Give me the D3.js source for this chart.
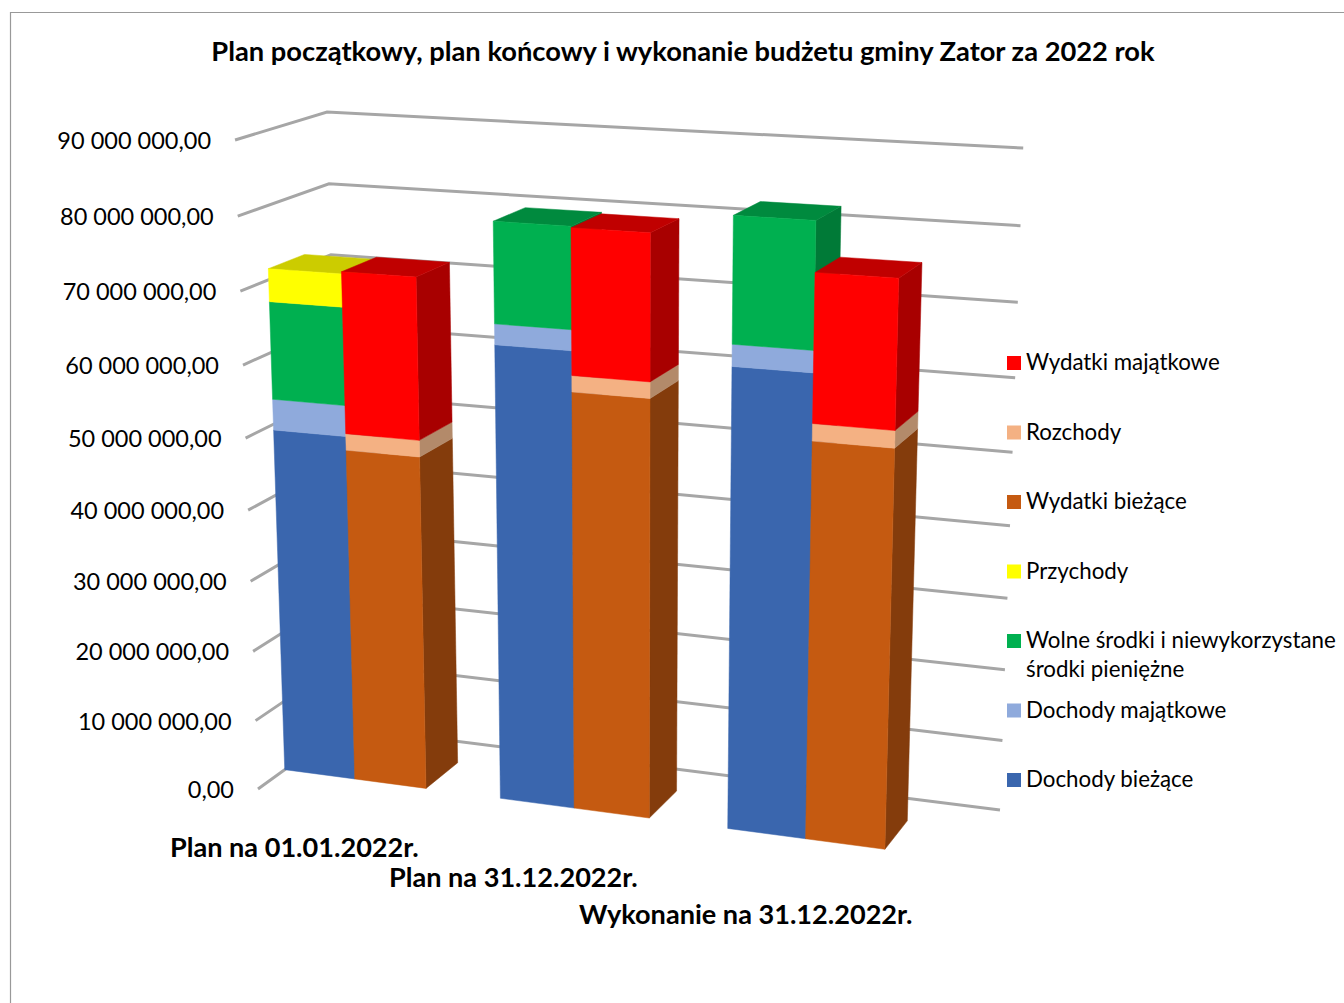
<!DOCTYPE html>
<html>
<head>
	<meta charset="utf-8">
	<script src="https://cdnjs.cloudflare.com/ajax/libs/d3/7.8.5/d3.min.js"></script>
	<style>
		html, body { margin: 0; padding: 0; background: #fff; }
		svg { display: block; }
		text { font-family: Lato, "Open Sans", sans-serif; fill: #000; }
	</style>
</head>
<body>
	<svg width="1344" height="1003"></svg>
	<script>
	//data
	const categories = ["Plan na 01.01.2022r.", "Plan na 31.12.2022r.", "Wykonanie na 31.12.2022r."];
	const valueTicks = [0, 10000000, 20000000, 30000000, 40000000, 50000000, 60000000, 70000000, 80000000, 90000000];
	const tickLabels = ["0,00", "10 000 000,00", "20 000 000,00", "30 000 000,00", "40 000 000,00", "50 000 000,00", "60 000 000,00", "70 000 000,00", "80 000 000,00", "90 000 000,00"];

	const dochodyBiezace = [49200000, 63500000, 63100000];
	const dochodyMajatkowe = [4300000, 2800000, 2900000];
	const wolneSrodki = [13500000, 13600000, 16600000];
	const przychody = [4500000, 0, 0];
	const wydatkiBiezace = [47300000, 58000000, 54200000];
	const rozchody = [2300000, 2200000, 2300000];
	const wydatkiMajatkowe = [22200000, 19500000, 19500000];

	const income = [
		{name: "Dochody bieżące", values: dochodyBiezace, front: "#3a66ae", side: "#2a4a7e", top: "#2f5390"},
		{name: "Dochody majątkowe", values: dochodyMajatkowe, front: "#8faadc", side: "#6a80a8", top: "#7790c0"},
		{name: "Wolne środki i niewykorzystane|środki pieniężne", values: wolneSrodki, front: "#00b050", side: "#007a37", top: "#008a3e"},
		{name: "Przychody", values: przychody, front: "#ffff00", side: "#aaaa00", top: "#cccc00"}
	];
	const expense = [
		{name: "Wydatki bieżące", values: wydatkiBiezace, front: "#c55a11", side: "#843c0c", top: "#a04a0e"},
		{name: "Rozchody", values: rozchody, front: "#f4b183", side: "#b38a6a", top: "#c98f68"},
		{name: "Wydatki majątkowe", values: wydatkiMajatkowe, front: "#ff0000", side: "#a80000", top: "#c00000"}
	];

	//perspective box: u along the floor, d into the depth, h up
	const O = [258, 789], Up = [874.1, 813.5], Dp = [363.6, 769.1], Hp = [221.4, 131.9];
	const cu = -0.0782, cd = 0.0579, ch = -0.058;

	function project(u, d, h) {
		const w = 1 + cu * u + cd * d + ch * h;
		return [0, 1].map(i => (O[i] + u * (Up[i] - O[i]) + d * (Dp[i] - O[i]) + h * (Hp[i] - O[i])) / w);
	}

	const svg = d3.select("svg");
	const line = d3.line();

	const h = d3.scaleLinear().domain([0, 90000000]).range([0, 1]);
	const band = d3.scaleBand().domain(categories).range([0, 1.118]).paddingInner(0.339).paddingOuter(0.339).align(0);
	const depthFront = 0.3, depthBack = 0.7;

	//chart border
	svg.append("path").attr("d", "M10.5,1003V12.5H1344").attr("fill", "none").attr("stroke", "#999").attr("stroke-width", 1.2);

	//title
	svg.append("text").attr("x", 683).attr("y", 61).attr("text-anchor", "middle")
		.style("font-size", "27.3px").style("font-weight", 700)
		.text("Plan początkowy, plan końcowy i wykonanie budżetu gminy Zator za 2022 rok");

	//grid walls
	const grid = svg.append("g").attr("fill", "none").attr("stroke", "#a6a6a6").attr("stroke-width", 3);
	grid.selectAll("path").data(valueTicks).enter().append("path")
		.attr("d", v => line([project(0, 0, h(v)), project(0, 1, h(v)), project(1, 1, h(v))]));

	//value labels
	svg.append("g").selectAll("text").data(valueTicks).enter().append("text")
		.attr("x", v => project(0, 0, h(v))[0] - 24)
		.attr("y", v => project(0, 0, h(v))[1] + 9)
		.attr("text-anchor", "end")
		.style("font-size", "23.5px")
		.text((v, i) => tickLabels[i]);

	//one stack: sides and tops painted with the fronts, bottom segment first
	function drawStack(group, series, uLeft, uRight) {
		const rows = categories.map((c, i) => {
			const row = {category: c};
			series.forEach(s => { row[s.name] = s.values[i]; });
			return row;
		});
		const layers = d3.stack().keys(series.map(s => s.name))(rows);
		const stackTop = rows.map((r, i) => d3.max(layers, l => l[i][1]));

		layers.forEach((layer, k) => {
			const s = series[k];
			layer.forEach((seg, i) => {
				if (seg[1] <= seg[0]) return;
				const x0 = uLeft(categories[i]), x1 = uRight(categories[i]);
				const h0 = h(seg[0]), h1 = h(seg[1]);
				const g = group[i];
				g.append("path").attr("fill", s.side).attr("stroke", s.side).attr("stroke-width", 0.5)
					.attr("d", line([project(x1, depthFront, h0), project(x1, depthBack, h0), project(x1, depthBack, h1), project(x1, depthFront, h1)]) + "Z");
				if (seg[1] === stackTop[i]) {
					g.append("path").attr("fill", s.top).attr("stroke", s.top).attr("stroke-width", 0.5)
						.attr("d", line([project(x0, depthFront, h1), project(x1, depthFront, h1), project(x1, depthBack, h1), project(x0, depthBack, h1)]) + "Z");
				}
				g.append("path").attr("fill", s.front).attr("stroke", s.front).attr("stroke-width", 0.5)
					.attr("d", line([project(x0, depthFront, h0), project(x1, depthFront, h0), project(x1, depthFront, h1), project(x0, depthFront, h1)]) + "Z");
			});
		});
	}

	const bars = svg.append("g");
	const incomeGroups = categories.map(() => null), expenseGroups = categories.map(() => null);
	categories.forEach((c, i) => {
		incomeGroups[i] = bars.append("g");
		expenseGroups[i] = bars.append("g");
	});
	const half = band.bandwidth() / 2;
	drawStack(incomeGroups, income, c => band(c), c => band(c) + half);
	drawStack(expenseGroups, expense, c => band(c) + half, c => band(c) + 2 * half);

	//category labels, stepped as in the picture
	const catX = [170, 389, 579], catY = [857, 887, 924];
	svg.append("g").selectAll("text").data(categories).enter().append("text")
		.attr("x", (c, i) => catX[i]).attr("y", (c, i) => catY[i])
		.style("font-size", "27.1px").style("font-weight", 700)
		.text(c => c);

	//legend, reversed
	const legendItems = income.concat(expense).reverse();
	const legendY = d3.scalePoint().domain(legendItems.map(s => s.name)).range([362, 779]);
	const legend = svg.append("g").selectAll("g").data(legendItems).enter().append("g")
		.attr("transform", s => "translate(1007," + legendY(s.name) + ")");
	legend.append("rect").attr("y", -6).attr("width", 14).attr("height", 14).attr("fill", s => s.front);
	legend.append("text").attr("x", 19)
		.attr("y", 8)
		.style("font-size", "22.3px")
		.selectAll("tspan").data(s => s.name.split("|")).enter().append("tspan")
		.attr("x", 19).attr("dy", (t, i) => i ? 29 : 0).text(t => t);
	</script>
</body>
</html>
